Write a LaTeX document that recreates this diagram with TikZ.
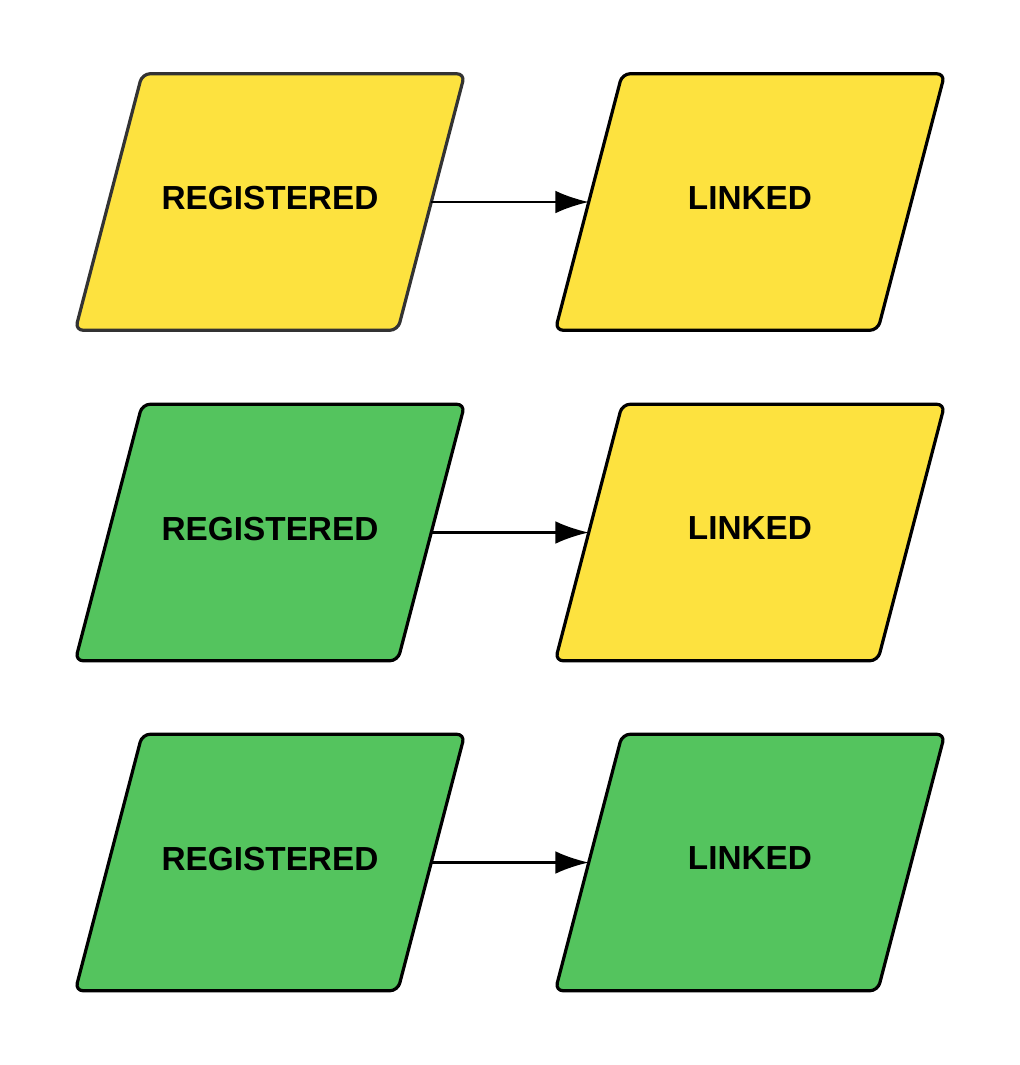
\documentclass[tikz,border=0pt]{standalone}
\usepackage{fontspec}
\setmainfont{Liberation Sans}
\usetikzlibrary{arrows.meta,backgrounds}
\definecolor{yel}{HTML}{FDE23F}
\definecolor{grn}{HTML}{54C45E}
\definecolor{edgegray}{HTML}{333333}
\newcommand\paral[3]{%
  \draw[para,draw=#3,fill=#2] ([xshift=25.125pt]#1.north west) -- ([xshift=25.125pt]#1.north east)
    -- ([xshift=-25.125pt]#1.south east) -- ([xshift=-25.125pt]#1.south west) -- cycle;}
\begin{document}
\begin{tikzpicture}[x=0.75pt,y=-0.75pt,
  state/.style={minimum width=241.5pt,minimum height=192pt,inner sep=0pt,text depth=6pt,
    font=\bfseries\fontsize{25}{28}\selectfont},
  para/.style={line width=2.4pt,rounded corners=6pt,line join=round},
  link/.style={line width=1.8pt,-{Latex[length=25pt,width=17pt]}}]
\useasboundingbox (0,0) rectangle (1020,1065);
\node[state] (r1) at (270,202) {REGISTERED};
\node[state] (l1) at (750,202) {LINKED};
\node[state] (r2) at (270,532.5) {REGISTERED};
\node[state] (l2) at (750,532.5) {LINKED};
\node[state] (r3) at (270,862.5) {REGISTERED};
\node[state] (l3) at (750,862.5) {LINKED};
\begin{scope}[on background layer]
\paral{r1}{yel}{edgegray}
\paral{l1}{yel}{black}
\paral{r2}{grn}{black}
\paral{l2}{yel}{black}
\paral{r3}{grn}{black}
\paral{l3}{grn}{black}
\end{scope}
\draw[link] (r1.east) -- (l1.west);
\draw[link] (r2.east) -- (l2.west);
\draw[link] (r3.east) -- (l3.west);
\end{tikzpicture}
\end{document}
